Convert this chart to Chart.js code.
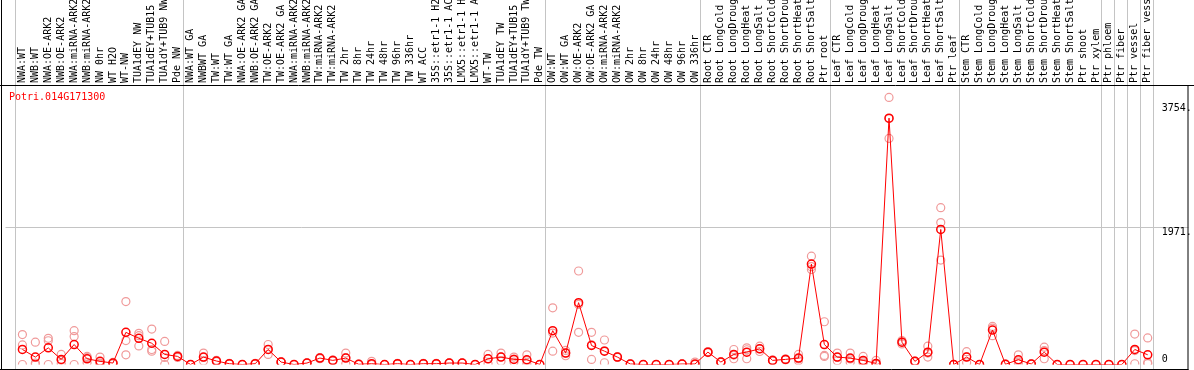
<!DOCTYPE html>
<html>
<head>
<meta charset="utf-8">
<script src="https://cdn.jsdelivr.net/npm/chart.js@4.4.1/dist/chart.umd.min.js"></script>
<style>
  html, body { margin: 0; padding: 0; background: #fff; }
  #wrap { width: 1194px; height: 370px; position: relative; }
</style>
</head>
<body>
<div id="wrap"><canvas id="chartExpr"></canvas></div>
<script>
// nombres de las muestras (eje x, arriba)
const sampleLabels = [
  'NWA:WT', 'NWB:WT', 'NWA:OE-ARK2', 'NWB:OE-ARK2', 'NWA:miRNA-ARK2', 'NWB:miRNA-ARK2', 'NW 0hr', 'WT H2O', 'WT-NW',
  'TUA1dEY NW', 'TUA1dEY+TUB15 NW', 'TUA1dY+TUB9 NW', 'Pde NW',
  'NWA:WT GA', 'NWBWT GA', 'TW:WT', 'TW:WT GA', 'NWA:OE-ARK2 GA', 'NWB:OE-ARK2 GA', 'TW:OE-ARK2', 'TW:OE-ARK2 GA',
  'NWA:miRNA-ARK2', 'NWB:miRNA-ARK2', 'TW:miRNA-ARK2', 'TW:miRNA-ARK2 GA', 'TW 2hr', 'TW 8hr', 'TW 24hr', 'TW 48hr',
  'TW 96hr', 'TW 336hr', 'WT ACC', '35S::etr1-1 H2O', '35S::etr1-1 ACC', 'LMX5::etr1-1 H2O', 'LMX5::etr1-1 ACC',
  'WT-TW', 'TUA1dEY TW', 'TUA1dEY+TUB15 TW', 'TUA1dY+TUB9 TW', 'Pde TW',
  'OW:WT', 'OW:WT GA', 'OW:OE-ARK2', 'OW:OE-ARK2 GA', 'OW:miRNA-ARK2', 'OW:miRNA-ARK2 GA', 'OW 2hr', 'OW 8hr',
  'OW 24hr', 'OW 48hr', 'OW 96hr', 'OW 336hr',
  'Root CTR', 'Root LongCold', 'Root LongDrought', 'Root LongHeat', 'Root LongSalt', 'Root ShortCold',
  'Root ShortDrought', 'Root ShortHeat', 'Root ShortSalt', 'Ptr root',
  'Leaf CTR', 'Leaf LongCold', 'Leaf LongDrought', 'Leaf LongHeat', 'Leaf LongSalt', 'Leaf ShortCold',
  'Leaf ShortDrought', 'Leaf ShortHeat', 'Leaf ShortSalt', 'Ptr leaf',
  'Stem CTR', 'Stem LongCold', 'Stem LongDrought', 'Stem LongHeat', 'Stem LongSalt', 'Stem ShortCold',
  'Stem ShortDrought', 'Stem ShortHeat', 'Stem ShortSalt', 'Ptr shoot',
  'Ptr xylem', 'Ptr phloem', 'Ptr fiber', 'Ptr vessel', 'Ptr fiber vessel'
];

// último índice de cada grupo (líneas grises verticales)
const groupEnds = [-1, 12, 40, 52, 62, 72, 83, 84, 85, 86, 87];

const geneName = 'Potri.014G171300';

// promedio de expresión
const meanValues = [
  215, 106, 238, 73, 286, 82, 45, 21, 460, 375, 304, 144, 116,
  0, 106, 50, 11, 0, 11, 215, 35, 0, 21, 92, 59, 92, 3, 11, 0, 11, 0, 11, 11, 21, 21, 0, 82, 106, 73, 68, 0,
  484, 163, 885, 272, 191, 106, 7, 0, 0, 0, 7, 7,
  177, 35, 144, 177, 224, 59, 73, 92, 1437, 286,
  106, 92, 59, 16, 3526, 319, 45, 177, 1933, 0,
  106, 0, 493, 3, 68, 7, 177, 0, 0, 0,
  0, 0, 0, 215, 139
];

// réplicas
const rep1 = [
  428, 319, 375, 144, 484, 116, 106, 30, 900, 446, 507, 330, 130,
  0, 163, 60, 15, 0, 15, 286, 40, 0, 25, 100, 65, 163, 5, 45, 0, 15, 0, 15, 15, 25, 25, 0, 144, 163, 106, 139, 0,
  811, 201, 1338, 460, 351, 110, 10, 0, 0, 0, 10, 35,
  185, 40, 215, 238, 262, 65, 80, 144, 1550, 612,
  163, 163, 116, 59, 3823, 343, 50, 262, 2244, 0,
  184, 0, 545, 5, 139, 10, 248, 0, 0, 0,
  0, 0, 0, 436, 380
];
const rep2 = [
  280, 21, 340, 60, 400, 100, 20, 20, 343, 413, 215, 100, 110,
  0, 100, 50, 10, 0, 10, 215, 35, 0, 20, 92, 59, 100, 3, 0, 0, 10, 0, 10, 10, 20, 20, 0, 82, 110, 78, 55, 0,
  450, 163, 860, 283, 197, 106, 5, 0, 0, 0, 5, 0,
  177, 35, 135, 211, 224, 59, 73, 80, 1400, 130,
  100, 80, 40, 10, 3520, 319, 45, 163, 2032, 0,
  110, 0, 520, 3, 50, 5, 200, 0, 0, 0,
  0, 0, 0, 200, 30
];
const rep3 = [
  0, 0, 0, 15, 0, 30, 10, 10, 139, 266, 190, 0, 100,
  0, 50, 40, 8, 0, 8, 144, 30, 0, 18, 84, 53, 10, 1, 0, 0, 8, 0, 8, 8, 18, 18, 0, 11, 45, 35, 11, 0,
  191, 125, 460, 73, 25, 102, 5, 0, 0, 0, 5, 0,
  170, 30, 82, 82, 186, 53, 66, 52, 1360, 116,
  55, 33, 21, 0, 3235, 295, 40, 106, 1494, 0,
  25, 0, 413, 1, 15, 5, 82, 0, 0, 0,
  0, 0, 0, 11, 11
];

// marcas del eje y (se dibujan a la derecha, dentro del área)
const yTickValues = [0, 1971, 3754];
const yTickLabels = ['0', '1971.', '3754.'];

const monoFont = "'DejaVu Sans Mono', monospace";

const toPoints = arr => arr.map((v, i) => ({ x: i, y: v }));

// líneas, marco y textos extra
const decorPlugin = {
  id: 'decor',
  beforeDatasetsDraw(chart) {
    const ctx = chart.ctx;
    const xs = chart.scales.x;
    const ys = chart.scales.y;
    const area = chart.chartArea;
    ctx.save();
    ctx.strokeStyle = '#c4c4c4';
    ctx.lineWidth = 1;
    groupEnds.forEach(function (g) {
      const px = Math.round(xs.getPixelForValue(g + 0.4)) + 0.5;
      ctx.beginPath();
      ctx.moveTo(px, 0);
      ctx.lineTo(px, chart.height);
      ctx.stroke();
    });
    // línea horizontal de la marca intermedia
    const gy = Math.round(ys.getPixelForValue(yTickValues[1])) + 0.5;
    ctx.beginPath();
    ctx.moveTo(area.left, gy);
    ctx.lineTo(area.right, gy);
    ctx.stroke();
    ctx.restore();
  },
  afterDraw(chart) {
    const ctx = chart.ctx;
    const xs = chart.scales.x;
    const ys = chart.scales.y;
    const area = chart.chartArea;
    ctx.save();
    ctx.strokeStyle = '#000';
    ctx.lineWidth = 1;
    ctx.beginPath();
    ctx.moveTo(0, area.top - 0.5);
    ctx.lineTo(chart.width, area.top - 0.5);
    ctx.moveTo(1.5, 0);
    ctx.lineTo(1.5, chart.height);
    ctx.moveTo(0, chart.height - 0.5);
    ctx.lineTo(area.right, chart.height - 0.5);
    ctx.moveTo(area.right - 0.5, area.top);
    ctx.lineTo(area.right - 0.5, chart.height);
    ctx.stroke();

    ctx.font = '10px ' + monoFont;
    ctx.fillStyle = '#000';
    ctx.textAlign = 'left';
    ctx.textBaseline = 'top';
    const lx = xs.getPixelForValue(sampleLabels.length - 1) + 14;
    yTickValues.forEach(function (v, i) {
      const py = Math.min(ys.getPixelForValue(v) + 1, area.bottom - 10);
      ctx.fillText(yTickLabels[i], lx, py);
    });

    ctx.fillStyle = '#ff0000';
    ctx.textBaseline = 'middle';
    ctx.fillText(geneName, 9, area.top + 11);
    ctx.restore();
  }
};

const repStyle = {
  showLine: false,
  pointRadius: 4,
  pointBorderWidth: 1.2,
  pointBorderColor: '#f09a9a',
  pointBackgroundColor: 'rgba(0,0,0,0)',
  order: 2
};

document.addEventListener('DOMContentLoaded', function () {
  const ctx = document.getElementById('chartExpr');
  new Chart(ctx, {
    type: 'line',
    data: {
      datasets: [
        Object.assign({ label: 'rep1', data: toPoints(rep1) }, repStyle),
        Object.assign({ label: 'rep2', data: toPoints(rep2) }, repStyle),
        Object.assign({ label: 'rep3', data: toPoints(rep3) }, repStyle),
        {
          label: geneName,
          data: toPoints(meanValues),
          borderColor: '#ff0000',
          borderWidth: 1,
          tension: 0,
          pointRadius: 4,
          pointBorderWidth: 1.5,
          pointBorderColor: '#ff0000',
          pointBackgroundColor: 'rgba(0,0,0,0)',
          order: 1
        }
      ]
    },
    options: {
      responsive: true,
      maintainAspectRatio: false,
      animation: false,
      layout: { padding: { left: 2, right: 3, top: 0, bottom: 2.5 } },
      plugins: {
        legend: { display: false },
        tooltip: { enabled: false }
      },
      scales: {
        x: {
          type: 'linear',
          position: 'top',
          min: -17 / 13,
          max: 1172 / 13,
          afterBuildTicks: function (scale) {
            scale.ticks = sampleLabels.map((_, i) => ({ value: i }));
          },
          afterFit: function (scale) {
            scale.height = 86;
          },
          grid: { display: false, drawTicks: false },
          border: { display: false },
          ticks: {
            autoSkip: false,
            minRotation: 90,
            maxRotation: 90,
            padding: 3,
            labelOffset: 12,
            color: '#000',
            font: { family: monoFont, size: 10 },
            callback: function (value) {
              return sampleLabels[value];
            }
          }
        },
        y: {
          type: 'linear',
          display: false,
          min: 0,
          max: 3986
        }
      }
    },
    plugins: [decorPlugin]
  });
});
</script>
</body>
</html>
